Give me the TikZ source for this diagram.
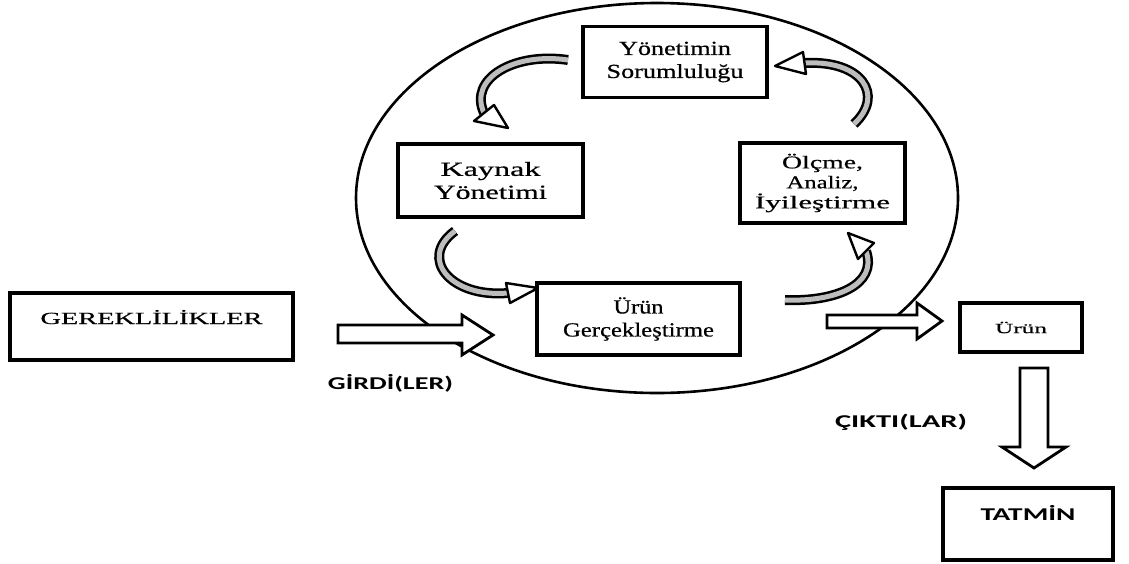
\documentclass[tikz,border=0pt]{standalone}
\usepackage{fontspec}
\usepackage{graphicx}
\usetikzlibrary{shapes.geometric}
\newfontfamily\boxserif[FakeBold=0.5]{Liberation Serif}
\newfontfamily\lblsans{Carlito}
\newcommand\fitw[2]{\resizebox{#1pt}{\height}{#2}}
\definecolor{arrgray}{HTML}{BDBDBD}
\begin{document}
\begin{tikzpicture}[x=1pt,y=-1pt,
  box/.style={draw, line width=3.4pt, inner sep=0pt, align=center,
    font=\boxserif\fontsize{20}{23}\selectfont},
  thickbox/.style={box, line width=4.6pt},
  lbl/.style={inner sep=0pt, font=\lblsans\bfseries\fontsize{18}{22}\selectfont},
  blockarrow/.style={draw, fill=white, line width=2.8pt, line join=miter},
  cbody/.style={line width=10pt, line cap=butt},
  cbodyin/.style={line width=5pt, arrgray, line cap=butt},
  chead/.style={draw, fill=white, line width=2.4pt, line join=round}]
\useasboundingbox (0,0) rectangle (1129,563);

% big cycle
\node[ellipse, draw, line width=2.6pt, minimum width=602pt, minimum height=390pt, inner sep=0pt] (cyc) at (657,198) {};

% boxes in the cycle
\node[box, minimum width=184pt, minimum height=71pt] (ys) at (675,62)
  {\fitw{112}{Yönetimin}\\\fitw{137}{Sorumluluğu}};
\node[box, minimum width=185pt, minimum height=73pt] (ky) at (490.5,180.5)
  {\fitw{100}{Kaynak}\\\fitw{113}{Yönetimi}};
\node[box, minimum width=165pt, minimum height=80pt, font=\boxserif\fontsize{18}{20}\selectfont] (oa) at (822.5,183)
  {\fitw{81}{Ölçme,}\\\fitw{72}{Analiz,}\\\fitw{135}{İyileştirme}};
\node[box, minimum width=203pt, minimum height=72pt] (ug) at (638.5,319)
  {\fitw{50}{Ürün}\\\fitw{151}{Gerçekleştirme}};

% outside boxes
\node[thickbox, minimum width=283pt, minimum height=67pt, text height=31pt, text depth=36pt,
  font=\boxserif\fontsize{17}{20}\selectfont] (ger) at (151.5,326.5) {\fitw{222}{GEREKLİLİKLER}};
\node[box, minimum width=122pt, minimum height=49pt, font=\boxserif\fontsize{14}{16}\selectfont] (ur) at (1021,327.5)
  {\fitw{52}{Ürün}};
\node[thickbox, line width=4.2pt, minimum width=170pt, minimum height=72pt, text height=32pt, text depth=40pt,
  font=\lblsans\bfseries\fontsize{18}{22}\selectfont] (tat) at (1028,524) {\fitw{95}{TATMİN}};

% labels
\node[lbl] (girdi) at (390.5,383) {\fitw{125}{GİRDİ(LER)}};
\node[lbl] (cikti) at (901,422) {\fitw{132}{ÇIKTI(LAR)}};

% block arrows
\draw[blockarrow] (338,325) -- (462,325) -- (462,315) -- (493,335) -- (462,355) -- (462,343) -- (338,343) -- cycle;
\draw[blockarrow] (827,315) -- (917,315) -- (917,303) -- (942,321) -- (917,339) -- (917,328) -- (827,328) -- cycle;
\draw[blockarrow] (1020,368) -- (1048,368) -- (1048,447) -- (1066,447) -- (1034,468) -- (1002,447) -- (1020,447) -- cycle;

% curved arrows (coordinates)
\coordinate (a1s) at (568,60);  \coordinate (a1e) at (484,113);
\coordinate (a2s) at (854,124); \coordinate (a2e) at (805,63);
\coordinate (a3s) at (455,231); \coordinate (a3e) at (508,293);
\coordinate (a4s) at (785,300); \coordinate (a4e) at (866,251);

% Yonetim -> Kaynak
\draw[cbody] (a1s) .. controls (515,52) and (468,78) .. (a1e);
\draw[cbodyin] (a1s) .. controls (515,52) and (468,78) .. (a1e);
\draw[chead] (474,121) -- (508,128) -- (494,105) -- cycle;
% Olcme -> Yonetim
\draw[cbody] (a2s) .. controls (885,95) and (862,60) .. (a2e);
\draw[cbodyin] (a2s) .. controls (885,95) and (862,60) .. (a2e);
\draw[chead] (806,74) -- (775,66) -- (803,52) -- cycle;
% Kaynak -> Urun G
\draw[cbody] (a3s) .. controls (418,258) and (450,298) .. (a3e);
\draw[cbodyin] (a3s) .. controls (418,258) and (450,298) .. (a3e);
\draw[chead] (510,303) -- (538,288) -- (506,283) -- cycle;
% Urun G -> Olcme
\draw[cbody] (a4s) .. controls (835,302) and (878,285) .. (a4e);
\draw[cbodyin] (a4s) .. controls (835,302) and (878,285) .. (a4e);
\draw[chead] (874,243) -- (848,233) -- (858,259) -- cycle;
\end{tikzpicture}
\end{document}
